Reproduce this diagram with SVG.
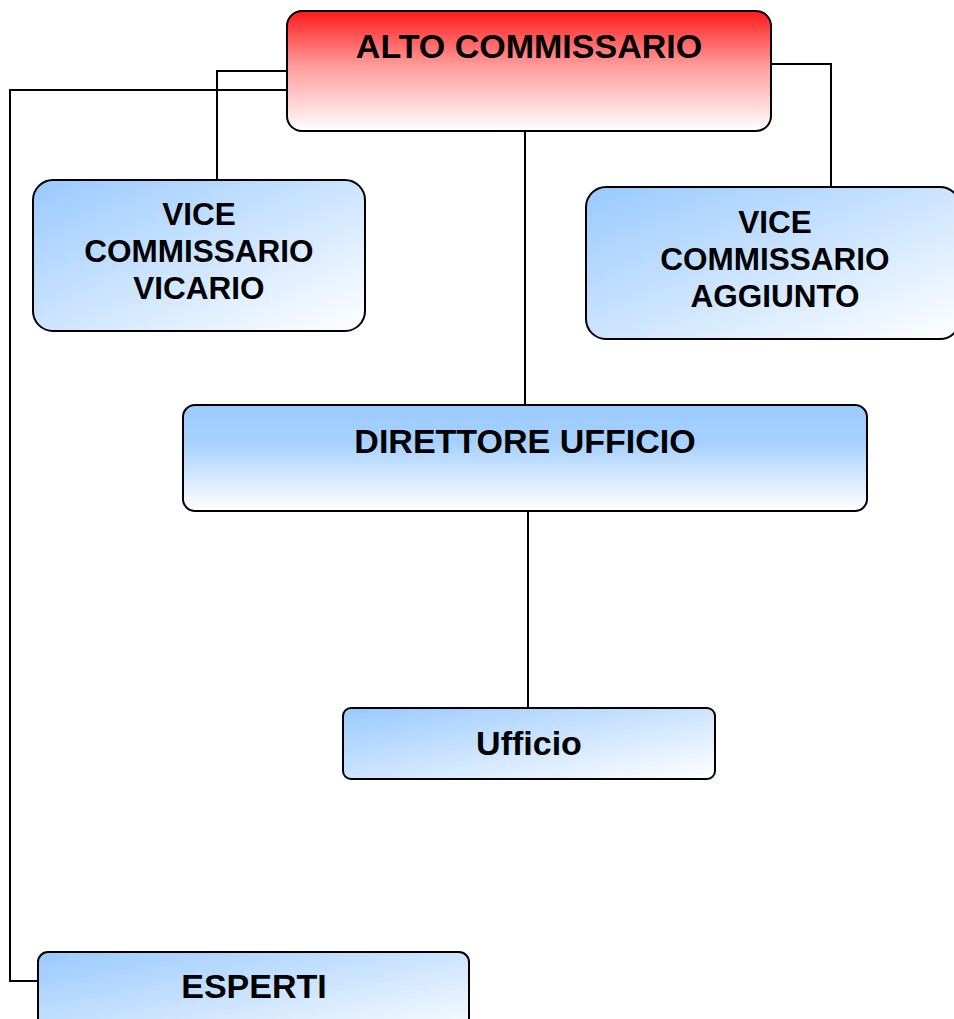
<svg xmlns="http://www.w3.org/2000/svg" width="954" height="1019" viewBox="0 0 954 1019">
<defs>
<linearGradient id="gRed" x1="0" y1="0" x2="0" y2="1">
<stop offset="0" stop-color="#ff1a1a"/>
<stop offset="0.45" stop-color="#ff9a9a"/>
<stop offset="1" stop-color="#ffffff"/>
</linearGradient>
<linearGradient id="gBlueV" x1="0" y1="0" x2="0" y2="1">
<stop offset="0" stop-color="#9ccbff"/>
<stop offset="0.35" stop-color="#a6d0ff"/>
<stop offset="1" stop-color="#ffffff"/>
</linearGradient>
<linearGradient id="gBlueD" x1="0" y1="0" x2="1" y2="1">
<stop offset="0" stop-color="#99c9ff"/>
<stop offset="1" stop-color="#ffffff"/>
</linearGradient>
<style>
.box{stroke:#000;stroke-width:2}
.t{font-family:"Liberation Sans",Arial,sans-serif;font-weight:bold;fill:#000;text-anchor:middle}
.big{font-size:34px}
.mid{font-size:31.5px}
.c{fill:none;stroke:#000;stroke-width:2}
</style>
</defs>
<g id="connectors">
<polyline class="c" points="287,71 217,71 217,180"/>
<polyline class="c" points="287,90 10,90 10,981 38,981"/>
<polyline class="c" points="771,64 831,64 831,187"/>
<line class="c" x1="525" y1="131" x2="525" y2="405"/>
<line class="c" x1="528" y1="511" x2="528" y2="708"/>
</g>
<g id="alto">
<rect class="box" x="287" y="11" width="484" height="120" rx="15" fill="url(#gRed)"/>
<text class="t big" x="529" y="58">ALTO COMMISSARIO</text>
</g>
<g id="vicario">
<rect class="box" x="33" y="180" width="332" height="151" rx="20" fill="url(#gBlueD)"/>
<text class="t mid" x="199" y="225">VICE</text>
<text class="t mid" x="199" y="262">COMMISSARIO</text>
<text class="t mid" x="199" y="299">VICARIO</text>
</g>
<g id="aggiunto">
<rect class="box" x="586" y="187" width="374" height="152" rx="20" fill="url(#gBlueD)"/>
<text class="t mid" x="775" y="233">VICE</text>
<text class="t mid" x="775" y="270">COMMISSARIO</text>
<text class="t mid" x="775" y="307">AGGIUNTO</text>
</g>
<g id="direttore">
<rect class="box" x="183" y="405" width="684" height="106" rx="12" fill="url(#gBlueV)"/>
<text class="t big" x="525" y="453">DIRETTORE UFFICIO</text>
</g>
<g id="ufficio">
<rect class="box" x="343" y="708" width="372" height="71" rx="8" fill="url(#gBlueD)"/>
<text class="t big" x="529" y="755">Ufficio</text>
</g>
<g id="esperti">
<rect class="box" x="38" y="952" width="431" height="90" rx="10" fill="url(#gBlueD)"/>
<text class="t big" x="254" y="998">ESPERTI</text>
</g>
</svg>
